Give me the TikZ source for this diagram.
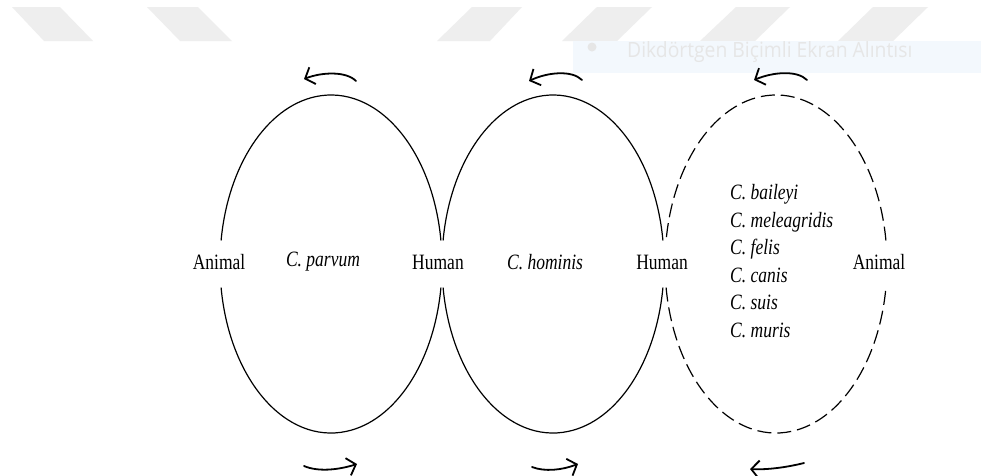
\documentclass[tikz,border=0pt]{standalone}
\usepackage{fontspec}
\setmainfont{Liberation Serif}
\newfontfamily\uifont{Open Sans}
\usetikzlibrary{arrows.meta}
\definecolor{wmgrey}{HTML}{EEEEEE}
\definecolor{tipblue}{HTML}{F3F8FD}
\definecolor{tiptext}{HTML}{E6E6E6}
\newcommand{\tallt}[1]{\scalebox{1}[1.25]{#1}}
\begin{document}
\begin{tikzpicture}[x=1pt,y=-1pt,
  loop/.style={line width=1.2pt},
  dashloop/.style={line width=1.2pt, dash pattern=on 14pt off 6pt},
  cyc/.style={line width=1.8pt, line cap=round, -{Straight Barb[length=8pt,width=18pt,line width=1.8pt]}},
  lab/.style={font=\fontsize{17.5}{20}\selectfont, inner sep=0pt},
  sp/.style={font=\fontsize{17.5}{20}\selectfont\itshape, inner sep=0pt}]
\useasboundingbox (0,0) rectangle (981,475);
\fill[white] (0,0) rectangle (981,475);
% screenshot artefacts
\fill[wmgrey] (12,7) -- (60,7) -- (93,41) -- (44,41) -- cycle;
\fill[wmgrey] (147,7) -- (198,7) -- (232,41) -- (180,41) -- cycle;
\fill[wmgrey] (472,7) -- (522,7) -- (490,41) -- (437,41) -- cycle;
\fill[wmgrey] (597,7) -- (652,7) -- (617,41) -- (562,41) -- cycle;
\fill[wmgrey] (736,7) -- (790,7) -- (755,41) -- (700,41) -- cycle;
\fill[wmgrey] (873,7) -- (928,7) -- (893,41) -- (838,41) -- cycle;
\fill[tipblue] (573,41) rectangle (981,73);
\fill[tiptext] (592,47) circle[radius=4.5pt];
\begin{scope}
\clip (573,41) rectangle (981,73);
\node[anchor=base west, inner sep=0pt, text=tiptext, font=\uifont\fontsize{21}{24}\selectfont] (tip) at (627,57) {\scalebox{0.92}[1]{Dikdörtgen Biçimli Ekran Alıntısı}};
\end{scope}
% loop centres
\coordinate (c1) at (331,264);
\coordinate (c2) at (553,264);
\coordinate (c3) at (776,264);
% loops
\draw[loop] (c1) ++(8:111pt and 169pt) arc[start angle=8,end angle=172,x radius=111pt,y radius=169pt];
\draw[loop] (c1) ++(188:111pt and 169pt) arc[start angle=188,end angle=352,x radius=111pt,y radius=169pt];
\draw[loop] (c2) ++(8:111pt and 169pt) arc[start angle=8,end angle=172,x radius=111pt,y radius=169pt];
\draw[loop] (c2) ++(188:111pt and 169pt) arc[start angle=188,end angle=352,x radius=111pt,y radius=169pt];
\draw[dashloop] (c3) ++(8:111pt and 169pt) arc[start angle=8,end angle=172,x radius=111pt,y radius=169pt];
\draw[dashloop] (c3) ++(188:111pt and 169pt) arc[start angle=188,end angle=352,x radius=111pt,y radius=169pt];
% labels
\node[lab] (animalL) at (219,262) {\tallt{Animal}};
\node[sp] (parvum) at (323,262) {\tallt{C. parvum}};
\node[lab] (human1) at (438,262) {\tallt{Human}};
\node[sp] (hominis) at (545,262) {\tallt{C. hominis}};
\node[lab] (human2) at (662,262) {\tallt{Human}};
\node[sp, anchor=west, align=left, font=\fontsize{17.5}{27.6}\selectfont\itshape] (others) at (730,261)
  {\tallt{C. baileyi}\\ \tallt{C. meleagridis}\\ \tallt{C. felis}\\ \tallt{C. canis}\\ \tallt{C. suis}\\ \tallt{C. muris}};
\node[lab] (animalR) at (879,262) {\tallt{Animal}};
% cycle arrows (top)
\coordinate (t1) at (356,81); \coordinate (h1) at (304,79);
\coordinate (t2) at (582,80); \coordinate (h2) at (529,81);
\coordinate (t3) at (807,80); \coordinate (h3) at (754,80);
\draw[cyc] (t1) .. controls (346,71) and (322,72) .. (h1);
\draw[cyc] (t2) .. controls (572,70) and (548,72) .. (h2);
\draw[cyc] (t3) .. controls (797,70) and (773,72) .. (h3);
% cycle arrows (bottom)
\coordinate (b1) at (304,466); \coordinate (e1) at (357,464);
\coordinate (b2) at (532,467); \coordinate (e2) at (578,464);
\coordinate (b3) at (804,463); \coordinate (e3) at (750,469);
\draw[cyc] (b1) .. controls (318,472) and (338,470) .. (e1);
\draw[cyc] (b2) .. controls (545,472) and (562,470) .. (e2);
\draw[cyc] (b3) .. controls (788,467) and (768,470) .. (e3);
\end{tikzpicture}
\end{document}
